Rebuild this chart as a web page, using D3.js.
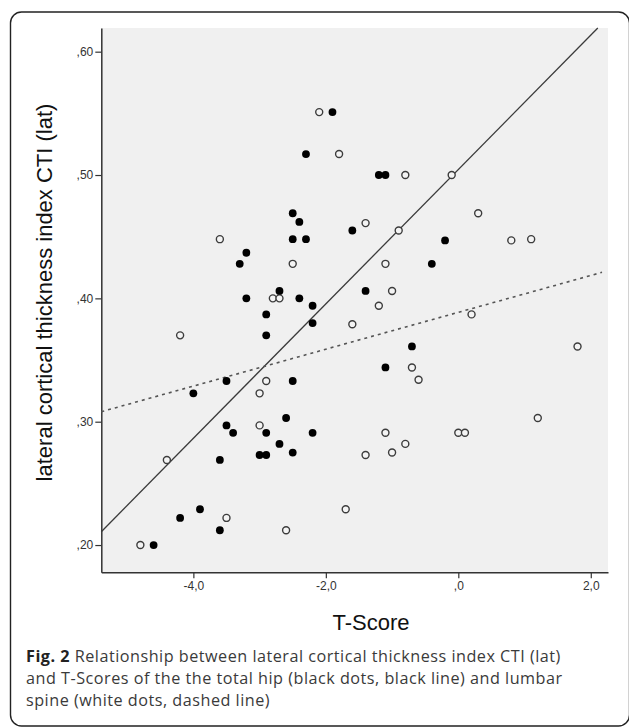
<!DOCTYPE html>
<html>
<head>
<meta charset="utf-8">
<script src="https://cdn.jsdelivr.net/npm/d3@7"></script>
<style>
  html, body { margin: 0; padding: 0; background: #fff; }
  svg { display: block; }
</style>
</head>
<body>
<svg id="chart"></svg>
<script>
// total hip (black dots)
const hipT = [
  -1.9, -2.3, -2.5, -2.4, -2.5, -2.3, -1.6, -3.2, -3.3, -2.7,
  -3.2, -2.4, -2.2, -2.9, -2.2, -2.9, -1.2, -1.1, -1.4, -0.2,
  -0.4, -3.5, -2.5, -4.0, -2.6, -3.5, -3.4, -2.9, -2.2, -2.7,
  -3.0, -2.9, -2.5, -3.6, -3.9, -4.2, -3.6, -4.6, -0.7, -1.1,
];
const hipCTI = [
  0.551, 0.517, 0.469, 0.462, 0.448, 0.448, 0.455, 0.437, 0.428, 0.406,
  0.400, 0.400, 0.394, 0.387, 0.380, 0.370, 0.500, 0.500, 0.406, 0.447,
  0.428, 0.333, 0.333, 0.323, 0.303, 0.297, 0.291, 0.291, 0.291, 0.282,
  0.273, 0.273, 0.275, 0.269, 0.229, 0.222, 0.212, 0.200, 0.361, 0.344,
];

// lumbar spine (white dots)
const spineT = [
  -2.1, -1.8, -3.6, -2.5, -2.8, -2.7, -1.6, -4.2, -0.8, -0.1,
  0.3, -1.4, -0.9, 0.8, 1.1, -1.1, -1.0, -1.2, 0.2, -2.9,
  -3.0, -3.0, -4.4, -3.5, -2.6, -4.8, -1.7, 1.8, -0.7, -0.6,
  1.2, -1.1, 0.0, 0.1, -0.8, -1.0, -1.4,
];
const spineCTI = [
  0.551, 0.517, 0.448, 0.428, 0.400, 0.400, 0.379, 0.370, 0.500, 0.500,
  0.469, 0.461, 0.455, 0.447, 0.448, 0.428, 0.406, 0.394, 0.387, 0.333,
  0.323, 0.297, 0.269, 0.222, 0.212, 0.200, 0.229, 0.361, 0.344, 0.334,
  0.303, 0.291, 0.291, 0.291, 0.282, 0.275, 0.273,
];

// fit lines (T-Score, CTI)
const hipFit = [[-5.39, 0.2108], [2.106, 0.6192]];
const spineFit = [[-5.39, 0.3081], [2.17, 0.4211]];

const xTicks = [-4, -2, 0, 2];
const yTicks = [0.2, 0.3, 0.4, 0.5, 0.6];

const yTitle = 'lateral cortical thickness index CTI (lat)';
const xTitle = 'T-Score';
const captionLines = [
  ['Fig. 2', ' Relationship between lateral cortical thickness index CTI (lat)'],
  ['', 'and T-Scores of the the total hip (black dots, black line) and lumbar'],
  ['', 'spine (white dots, dashed line)'],
];
// widths of the caption lines in the figure, px
const captionWidths = [574, 576, 261];

const width = 629;
const height = 728;
const plot = { left: 101.3, right: 608, top: 28, bottom: 572.3 };

const svg = d3
  .select('#chart')
  .attr('width', width)
  .attr('height', height);

// frame round figure and caption
svg
  .append('rect')
  .attr('x', 10.5)
  .attr('y', 12)
  .attr('width', 619)
  .attr('height', 714)
  .attr('rx', 11)
  .attr('fill', 'none')
  .attr('stroke', '#222')
  .attr('stroke-width', 1.4);

const xScale = d3
  .scaleLinear()
  .domain([-5.39, 2.26])
  .range([plot.left, plot.right]);

const yScale = d3
  .scaleLinear()
  .domain([0.1779, 0.6192])
  .range([plot.bottom, plot.top]);

svg
  .append('rect')
  .attr('x', plot.left)
  .attr('y', plot.top)
  .attr('width', plot.right - plot.left)
  .attr('height', plot.bottom - plot.top)
  .attr('fill', '#f0f0f0');

const locale = d3.formatLocale({
  decimal: ',',
  thousands: '.',
  grouping: [3],
  currency: ['', ''],
  minus: '-',
});
const stripZero = s => s.replace(/^(-?)0,/, '$1,');
const fmtX = d => stripZero(locale.format('.1f')(d));
const fmtY = d => stripZero(locale.format('.2f')(d));

const xAxis = d3
  .axisBottom(xScale)
  .tickValues(xTicks)
  .tickFormat(fmtX)
  .tickSize(6)
  .tickPadding(3)
  .tickSizeOuter(0);

const yAxis = d3
  .axisLeft(yScale)
  .tickValues(yTicks)
  .tickFormat(fmtY)
  .tickSize(6)
  .tickPadding(2)
  .tickSizeOuter(0);

const gx = svg
  .append('g')
  .attr('transform', 'translate(0,' + plot.bottom + ')')
  .call(xAxis);

const gy = svg
  .append('g')
  .attr('transform', 'translate(' + plot.left + ',0)')
  .call(yAxis);

[gx, gy].forEach(g => {
  g.select('.domain').attr('stroke', '#333').attr('stroke-width', 1.5);
  g.selectAll('.tick line').attr('stroke', '#333').attr('stroke-width', 1.2);
  g.selectAll('.tick text')
    .attr('fill', '#333')
    .style('font-family', '"Liberation Sans", Arial, sans-serif')
    .style('font-size', '12px');
});

// fit lines
const line = d3
  .line()
  .x(d => xScale(d[0]))
  .y(d => yScale(d[1]));

svg
  .append('path')
  .datum(hipFit)
  .attr('d', line)
  .attr('fill', 'none')
  .attr('stroke', '#3a3a3a')
  .attr('stroke-width', 1.3);

svg
  .append('path')
  .datum(spineFit)
  .attr('d', line)
  .attr('fill', 'none')
  .attr('stroke', '#555')
  .attr('stroke-width', 1.6)
  .attr('stroke-dasharray', '3,4');

// dots
const hipData = hipT.map((t, i) => ({ t: t, cti: hipCTI[i] }));
const spineData = spineT.map((t, i) => ({ t: t, cti: spineCTI[i] }));

svg
  .append('g')
  .selectAll('circle')
  .data(spineData)
  .enter()
  .append('circle')
  .attr('cx', d => xScale(d.t))
  .attr('cy', d => yScale(d.cti))
  .attr('r', 3.5)
  .attr('fill', '#f4f4f4')
  .attr('stroke', '#3c3c3c')
  .attr('stroke-width', 1.4);

svg
  .append('g')
  .selectAll('circle')
  .data(hipData)
  .enter()
  .append('circle')
  .attr('cx', d => xScale(d.t))
  .attr('cy', d => yScale(d.cti))
  .attr('r', 3.9)
  .attr('fill', '#000');

// axis titles
svg
  .append('text')
  .attr('transform', 'translate(52,' + 292.5 + ') rotate(-90)')
  .attr('text-anchor', 'middle')
  .attr('fill', '#111')
  .style('font-family', '"Liberation Sans", Arial, sans-serif')
  .style('font-size', '22px')
  .text(yTitle);

svg
  .append('text')
  .attr('x', 371)
  .attr('y', 630)
  .attr('text-anchor', 'middle')
  .attr('fill', '#111')
  .style('font-family', '"Liberation Sans", Arial, sans-serif')
  .style('font-size', '22px')
  .text(xTitle);

// caption: 16.2px keeps line boxes apart at 22.2px leading
const caption = svg
  .append('g')
  .style('font-family', '"Open Sans", "Noto Sans", sans-serif')
  .style('font-size', '16.2px')
  .attr('fill', '#3a3a3a');

const lineTexts = caption
  .selectAll('text')
  .data(captionLines)
  .enter()
  .append('text')
  .attr('x', 26)
  .attr('y', (d, i) => 661.8 + i * 22.2);

lineTexts
  .append('tspan')
  .style('font-weight', 'bold')
  .attr('fill', '#222')
  .text(d => d[0]);

lineTexts.append('tspan').text(d => d[1]);

// small spacing nudge so each line ends where it does in the figure
lineTexts.each(function (d, i) {
  const measured = this.getComputedTextLength();
  const chars = (d[0] + d[1]).length;
  if (measured > 0 && chars > 1) {
    const ls = Math.max(-0.5, Math.min(0.5, (captionWidths[i] - measured) / (chars - 1)));
    d3.select(this).style('letter-spacing', ls.toFixed(3) + 'px');
  }
});
</script>
</body>
</html>
